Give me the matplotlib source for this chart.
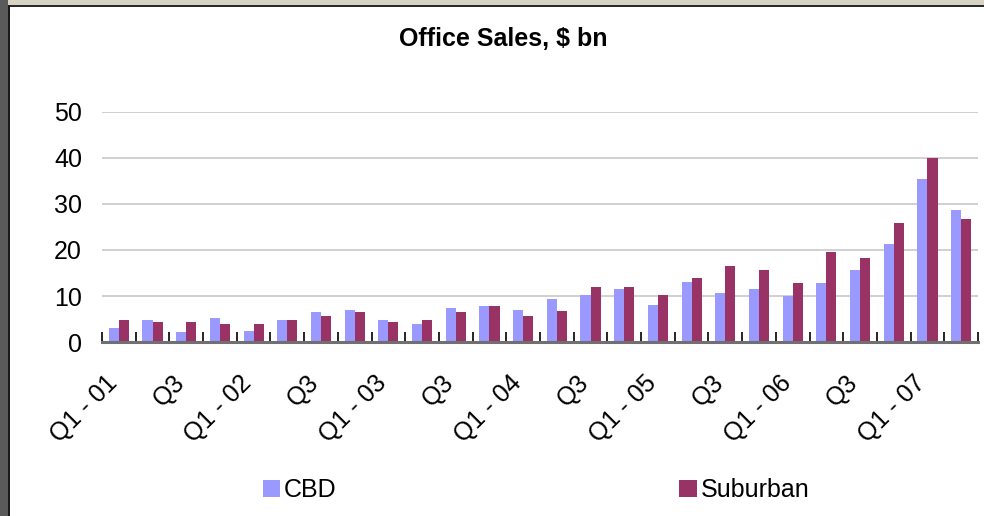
import numpy as np
import matplotlib.pyplot as plt
from matplotlib.patches import Rectangle
from matplotlib.transforms import ScaledTranslation

plt.rcParams['font.family'] = ['Liberation Sans', 'DejaVu Sans']

# Quarterly office sales, $ bn (Q1-01 .. Q2-07)
quarters = ['Q1 - 01', 'Q2', 'Q3', 'Q4', 'Q1 - 02', 'Q2', 'Q3', 'Q4',
            'Q1 - 03', 'Q2', 'Q3', 'Q4', 'Q1 - 04', 'Q2', 'Q3', 'Q4',
            'Q1 - 05', 'Q2', 'Q3', 'Q4', 'Q1 - 06', 'Q2', 'Q3', 'Q4',
            'Q1 - 07', 'Q2']
cbd = [3.0, 4.7, 2.1, 5.2, 2.5, 4.7, 6.5, 7.0, 4.7, 3.9, 7.4, 7.9, 7.0,
       9.4, 10.3, 11.6, 8.1, 13.1, 10.7, 11.6, 9.9, 12.9, 15.7, 21.4, 35.5, 28.6]
suburban = [4.7, 4.3, 4.3, 3.9, 3.9, 4.7, 5.6, 6.5, 4.3, 4.7, 6.5, 7.9, 5.6,
            6.8, 12.0, 12.0, 10.3, 14.0, 16.6, 15.7, 12.9, 19.6, 18.3, 25.9, 40.1, 26.8]
yticks = [0, 10, 20, 30, 40, 50]

cbd_color = '#9999FF'
sub_color = '#993366'

fig = plt.figure(figsize=(9.84, 5.16), dpi=100)
fig.patch.set_facecolor('white')

# frame decoration around the chart
fig.patches.append(Rectangle((0, 1 - 5 / 516), 1, 5 / 516, transform=fig.transFigure,
                             facecolor='#D6D2C4', edgecolor='none', zorder=0))
fig.patches.append(Rectangle((0, 1 - 7 / 516), 1, 2 / 516, transform=fig.transFigure,
                             facecolor='#2A2A2A', edgecolor='none', zorder=0))
fig.patches.append(Rectangle((0, 0), 8 / 984, 1, transform=fig.transFigure,
                             facecolor='#5A5A5A', edgecolor='none', zorder=0))
fig.patches.append(Rectangle((8 / 984, 0), 2 / 984, 1 - 5 / 516, transform=fig.transFigure,
                             facecolor='#1A1A1A', edgecolor='none', zorder=0))

ax = fig.add_axes([102 / 984, 1 - 342 / 516, 876 / 984, 230 / 516])

x = np.arange(len(quarters))
w = 0.3
ax.bar(x - w / 2, cbd, width=w, color=cbd_color, label='CBD', zorder=2)
ax.bar(x + w / 2, suburban, width=w, color=sub_color, label='Suburban', zorder=2)

ax.set_xlim(-0.5, len(quarters) - 0.5)
ax.set_ylim(0, 50)
ax.set_yticks(yticks)
ax.yaxis.grid(True, color='#C8C8C8', linewidth=1.2, zorder=0)
ax.tick_params(axis='y', length=0, labelsize=18, pad=14.4)

# tick marks at category boundaries, labels every other quarter
ax.set_xticks(np.arange(len(quarters) + 1) - 0.5)
ax.set_xticklabels([])
ax.tick_params(axis='x', which='major', direction='in', length=7, width=1.2, color='black')
ax.set_xticks(x[::2], minor=True)
ax.set_xticklabels(quarters[::2], minor=True, rotation=45, ha='right',
                   rotation_mode='anchor', fontsize=18)
ax.tick_params(axis='x', which='minor', length=0, pad=14)
shift = ScaledTranslation(-14 / 100, -9 / 100, fig.dpi_scale_trans)
for lab in ax.get_xticklabels(minor=True):
    lab.set_transform(lab.get_transform() + shift)

for s in ['top', 'right', 'left']:
    ax.spines[s].set_visible(False)
ax.spines['bottom'].set_color('#707070')
ax.spines['bottom'].set_linewidth(2.2)
ax.set_facecolor('white')

fig.text(503 / 984, 1 - 39 / 516, 'Office Sales, $ bn', ha='center', va='center',
         fontsize=18, fontweight='bold')

fig.legend(loc='center', bbox_to_anchor=(536 / 984, 1 - 490 / 516), ncol=2,
           frameon=False, fontsize=18, handlelength=0.7, handleheight=0.7,
           handletextpad=0.15, columnspacing=13.7)

fig.savefig('out.png', dpi=100)
